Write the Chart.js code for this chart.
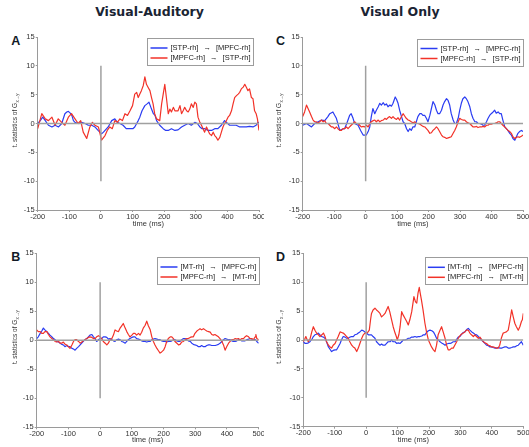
<!DOCTYPE html>
<html><head><meta charset="utf-8">
<script src="https://cdn.jsdelivr.net/npm/chart.js@4.4.1/dist/chart.umd.min.js"></script>
<style>
html,body{margin:0;padding:0;background:#fff;}
#wrap{position:relative;width:529px;height:447px;overflow:hidden;background:#fff;}
canvas{position:absolute;}
.ttl{position:absolute;font:bold 12.5px "DejaVu Sans",Verdana,sans-serif;color:#1a2433;white-space:nowrap;transform:translate(-50%,-50%);line-height:14px;}
.let{position:absolute;font:bold 12.5px "Liberation Sans",Arial,sans-serif;color:#111a26;transform:translate(-50%,-50%);line-height:14px;}
</style></head>
<body><div id="wrap">
<div class="ttl" style="left:149.5px;top:12px">Visual-Auditory</div>
<div class="ttl" style="left:400px;top:12px">Visual Only</div>
<div class="let" style="left:15.8px;top:40.5px">A</div>
<div class="let" style="left:15.8px;top:256.5px">B</div>
<div class="let" style="left:280.5px;top:40.5px">C</div>
<div class="let" style="left:280.5px;top:256.5px">D</div>
<canvas id="cA" width="264" height="232" style="left:0;top:0;width:264px;height:232px"></canvas>
<canvas id="cC" width="265" height="232" style="left:264px;top:0;width:265px;height:232px"></canvas>
<canvas id="cB" width="264" height="215" style="left:0;top:232px;width:264px;height:215px"></canvas>
<canvas id="cD" width="265" height="215" style="left:264px;top:232px;width:265px;height:215px"></canvas>
</div>
<script>
// ---------- tick labels / ranges ----------
const xTickVals = [-200,-100,0,100,200,300,400,500];
const yTickVals = [-15,-10,-5,0,5,10,15];
const zeroLineX = [-200,500];
const onsetLineY = [-10,10];

// ---------- legend labels ----------
const labelsA = [["[STP-rh]","[MPFC-rh]"],["[MPFC-rh]","[STP-rh]"]];
const labelsB = [["[MT-rh]","[MPFC-rh]"],["[MPFC-rh]","[MT-rh]"]];

// ---------- Panel A (Visual-Auditory, STP) ----------
const aBlueT = [-200,-192,-184,-176,-166,-155,-145,-134,-124,-114,-108,-103,-97,-92,-87,-82,-72,-61,-50,-40,-29,-19,-9,2,8,13,23,34,44,52,60,70,80,91,101,107,113,118,123,130,139,146,152,156,160,166,171,176,186,197,205,213,223,234,244,255,265,276,286,297,305,313,320,328,339,350,360,370,381,391,397,407,418,428,439,450,460,470,481,491,497,500];
const aBlueV = [0,0.5,1.1,0.5,-0.3,-0.6,-0.3,-0.6,0,1.7,2.0,2.1,1.8,1.4,0.5,0.2,0,0.2,0,-0.3,-0.3,-0.6,-1.2,-1.8,-1.5,-1.2,-0.6,0.5,0.8,0.2,0,-0.3,-0.9,-0.9,-0.9,-0.6,0,0.5,1.1,2.2,3.1,3.4,3.7,3.1,2.5,1.7,1.4,0.5,-0.3,-0.9,-1.2,-1.2,-0.9,-1.2,-1.1,-0.6,-0.3,0,-0.3,0.2,0,-0.6,-0.9,-0.9,-1.2,-1.2,-0.9,-0.9,-0.3,0.5,0.2,-0.3,-0.3,-0.3,-0.6,-0.6,-0.6,-0.5,-0.6,-0.3,0.2,0];
const aRedT = [-200,-187,-176,-166,-155,-145,-135,-124,-114,-103,-93,-82,-72,-64,-56,-45,-35,-27,-19,-8,2,13,20,28,36,44,52,60,68,76,84,92,100,107,113,118,123,128,134,139,144,149,155,160,165,170,176,186,192,197,202,207,213,218,223,229,234,244,250,255,260,265,271,276,281,286,292,297,302,307,313,318,323,328,334,339,344,350,355,360,365,370,376,381,386,391,397,402,407,413,418,423,428,434,439,444,450,455,460,465,470,476,481,486,491,495,500];
const aRedV = [-0.9,1.7,0.8,0.5,1.1,-0.3,0.8,0.2,-0.3,1.1,1.7,0.8,0,0.5,-1.5,-2.6,-0.6,0.2,-0.3,-0.6,-2.9,-2.1,-1.2,-0.6,-0.9,0.5,0.2,0.8,0.5,1.7,1.4,2.2,3.1,5.1,5.4,4.5,5.1,5.7,6.6,8.1,6.8,6.3,5.7,4.5,3.4,1.7,0.8,0.5,3.4,5.1,6.8,4.5,1.7,2.5,2.0,2.8,2.2,2.2,3.1,1.7,2.2,2.8,2.2,2.0,2.5,3.4,2.8,3.7,3.4,1.1,0.2,-0.3,-0.9,-1.5,-0.6,-1.2,-1.8,-2.1,-1.5,-2.1,-2.4,-2.9,-2.4,-1.5,-0.6,0,0.5,1.1,1.4,2.2,3.4,4.5,4.8,5.1,5.4,6.0,6.3,6.8,6.3,5.7,6.0,4.5,4.3,2.2,1.7,0.8,-1.2];

// ---------- Panel C (Visual Only, STP) ----------
const cBlueT = [-200,-188,-180,-172,-162,-151,-140,-130,-120,-114,-104,-98,-93,-82,-75,-67,-60,-51,-46,-40,-35,-24,-16,-8,2,8,13,18,23,29,34,40,45,50,56,61,66,71,77,82,87,94,98,103,108,114,119,124,130,135,140,145,150,156,161,166,172,177,182,188,193,198,204,209,214,220,225,230,235,241,246,251,257,262,267,272,278,283,288,294,299,304,309,315,320,325,331,336,341,347,352,357,362,368,373,378,384,389,394,399,405,410,415,421,426,431,436,442,447,452,458,463,468,474,479,484,489,495,500];
const cBlueV = [-0.3,0,-0.3,-0.6,0,0.3,0.6,0.5,1.2,1.7,2.0,1.4,0.9,-1.2,-1.0,-0.9,0,1.4,1.7,0.9,0,-0.3,-1.2,-2.0,-2.0,-1.4,-0.6,1.2,2.6,1.7,2.3,2.9,3.5,3.2,3.6,3.2,3.4,2.9,3.2,3.0,3.5,4.6,4.2,3.5,2.3,1.2,0.3,0,-0.9,-1.4,-0.9,-1.2,-0.6,-0.6,0.3,1.2,1.7,1.7,1.4,1.4,0.9,0.3,1.4,2.6,3.8,3.2,2.3,1.7,1.7,2.3,3.2,3.8,4.3,4.0,3.2,1.7,0.6,0,0,0.9,2.3,3.5,4.3,4.6,4.3,3.8,2.9,1.7,0.9,0.3,0.3,0,0,-0.1,-0.3,-0.3,0.3,0.9,1.4,1.7,2.0,2.3,1.8,2.0,1.7,1.7,0.6,-0.6,-0.9,-1.2,-1.7,-2.0,-2.6,-2.9,-2.3,-1.7,-1.4,-1.2,-1.4];
const cRedT = [-200,-194,-188,-183,-178,-172,-167,-162,-157,-151,-146,-141,-135,-130,-125,-119,-114,-109,-104,-98,-93,-88,-82,-77,-72,-67,-61,-56,-51,-46,-40,-35,-30,-24,-19,-14,-8,-3,2,8,13,18,24,29,34,40,45,50,56,61,66,71,76,82,87,92,98,103,108,114,119,124,129,135,140,145,151,156,161,167,172,177,182,188,193,198,204,209,214,220,225,230,235,241,246,251,257,262,267,272,278,283,288,294,299,304,309,315,320,325,331,336,341,347,352,357,362,368,373,378,384,389,394,399,405,410,415,421,426,431,436,442,447,452,458,463,468,474,479,484,489,495,500];
const cRedV = [1.2,2.0,3.2,2.6,2.0,1.2,0.6,0.3,0.3,0.1,0.3,0.6,0.3,0.5,0,0,-0.3,-0.6,-0.6,-0.9,-0.6,-0.9,-1.2,-1.2,-0.9,-0.9,-0.6,-0.9,-0.6,-0.3,0,0.3,0,0,-0.3,-0.6,-0.5,-0.6,-0.3,-0.6,0,0.3,0.5,0.6,0.3,0.6,0.3,0.5,0.6,0.9,0.7,1.0,1.2,0.9,1.2,0.9,0.7,1.0,0.6,1.2,1.7,1.3,0.9,0.6,0.5,0.3,0.1,0.3,0,0,-0.1,-0.3,-0.5,-0.6,-0.9,-1.2,-1.7,-1.6,-1.2,-0.9,-0.6,-0.9,-1.4,-2.0,-2.3,-2.4,-2.6,-2.5,-2.4,-2.3,-1.7,-1.2,-0.6,0.3,0.9,0.7,0.6,0.6,0.3,0.1,0,-0.3,-0.6,-0.6,-0.5,-0.7,-0.6,-0.6,-0.5,-0.6,-0.3,-0.3,-0.1,-0.1,0,0,0.1,0.3,0.3,0,-0.3,-0.6,-0.9,-1.2,-1.4,-1.7,-2.3,-2.6,-2.4,-2.3,-2.4,-2.2,-2.0];

// ---------- Panel B (Visual-Auditory, MT) ----------
const bBlueT = [-200,-195,-189,-184,-179,-174,-168,-163,-158,-152,-147,-142,-137,-131,-126,-121,-116,-111,-105,-100,-95,-89,-84,-79,-74,-68,-63,-58,-53,-48,-42,-37,-32,-26,-21,-16,-11,-5,0,5,10,16,21,26,31,37,42,47,52,58,63,68,73,79,84,89,94,100,105,110,115,121,126,131,136,142,147,152,158,163,168,173,179,184,189,194,200,205,210,215,221,226,231,236,242,247,252,257,263,268,273,278,284,289,294,299,305,310,315,320,326,331,336,342,347,352,357,363,368,373,378,384,389,394,399,405,410,415,420,426,431,436,441,447,452,457,462,468,473,478,484,489,494,500];
const bBlueV = [0.3,0.6,1.2,1.6,2.1,1.8,1.5,1.2,0.9,0.6,0.3,0.1,-0.2,-0.3,-0.5,-0.7,-0.8,-1.1,-0.9,-1.1,-1.1,-1.4,-1.5,-1.7,-1.4,-1.1,-0.8,-0.5,-0.2,0.1,0.3,0.6,0.9,1.0,0.6,0.3,-0.2,0.1,0.3,0.3,0.6,0.6,0.5,0.2,0.3,0.1,-0.1,-0.2,0.1,0.2,0.1,-0.2,-0.3,-0.5,-0.2,0.1,0.3,0.5,0.6,0.6,0.3,0.2,0.1,-0.1,-0.2,-0.2,-0.3,-0.2,-0.2,0.1,0.2,0.3,0.2,0.1,0.1,-0.1,-0.2,-0.2,-0.3,-0.2,-0.2,-0.1,0.1,0.1,-0.1,-0.2,-0.2,0.1,0.3,0.3,0.1,-0.1,-0.2,-0.5,-0.7,-0.8,-0.9,-1.1,-1.1,-0.9,-1.1,-1.1,-0.9,-0.8,-0.8,-0.9,-0.9,-0.9,-0.8,-0.7,-0.5,-0.2,0.1,0.3,0.2,0.1,0.1,-0.1,-0.2,-0.2,-0.1,0.1,0.1,-0.1,-0.1,-0.1,0.1,0.2,0.3,0.2,0.1,0.1,-0.2,-0.5];
const bRedT = [-200,-195,-189,-184,-179,-174,-168,-163,-158,-152,-147,-142,-137,-131,-126,-121,-116,-110,-105,-100,-95,-89,-84,-79,-74,-68,-63,-58,-53,-48,-42,-37,-32,-26,-21,-16,-11,-5,0,5,10,16,21,26,31,37,42,47,52,58,63,68,73,79,84,89,94,100,105,110,115,121,126,131,136,142,147,152,158,163,168,173,179,184,189,194,200,205,210,215,221,226,231,236,242,247,252,257,263,268,273,278,284,289,294,299,305,310,315,320,326,331,336,342,347,352,357,362,368,373,378,384,389,394,399,405,410,415,420,426,431,436,441,447,452,457,462,468,473,478,483,489,491,494,500];
const bRedV = [1.8,1.5,1.5,1.2,1.2,1.5,1.5,1.0,0.6,0.3,0.1,-0.2,-0.3,-0.2,-0.5,-0.5,-0.3,-0.7,-0.8,-1.1,-1.4,-0.8,-0.2,0.1,0.1,-0.2,-0.5,-0.3,-0.1,0.1,0.3,0.5,0.6,0.5,0.3,0.3,0.6,0.8,0.6,0.3,-0.2,-0.5,-0.8,-0.5,0.1,0.3,0.9,1.8,1.6,1.5,2.1,2.5,2.9,2.1,1.5,1.0,0.6,0.9,1.2,1.2,0.9,1.2,0.9,1.4,2.1,2.6,3.3,2.5,1.8,0.6,-0.2,-0.8,-1.4,-1.8,-2.2,-2.0,-1.7,-1.1,-0.2,0.3,0.6,0.6,0.3,-0.2,-0.5,-0.8,-0.7,-0.3,-0.2,0.1,0.3,0.3,0.5,0.6,0.6,1.2,1.6,1.8,2.0,1.8,2.0,1.8,1.6,1.5,1.4,1.0,0.9,1.0,0.8,0.6,0.3,-0.2,-0.8,-1.7,-1.1,-0.5,-0.2,0.1,0.1,0.3,0.2,0.3,0.1,0.3,0.3,0.6,0.8,0.6,0.3,0.3,0.1,0.6,1.0,0.3,0.1];

// ---------- Panel D (Visual Only, MT) ----------
const dBlueT = [-200,-194,-189,-184,-179,-173,-168,-163,-158,-152,-147,-142,-136,-131,-126,-120,-115,-110,-105,-99,-94,-89,-83,-78,-73,-67,-62,-57,-52,-46,-41,-36,-30,-25,-20,-14,-9,-4,1,7,12,17,22,28,33,38,44,49,54,60,65,70,76,81,86,92,97,102,108,113,118,123,129,134,139,145,150,155,161,166,171,177,182,187,192,198,203,209,214,219,224,230,235,240,246,251,256,262,267,272,277,283,288,293,298,304,309,314,320,325,330,336,341,346,351,357,362,367,373,378,383,389,394,399,404,410,415,420,426,431,436,441,447,452,457,463,468,473,479,484,489,494,500];
const dBlueV = [-0.3,-0.6,-0.6,-0.5,-0.3,0.1,0.6,0.9,1.0,1.2,0.9,0.6,0.5,0.3,-0.3,-1.2,-1.6,-2.0,-1.8,-1.7,-1.7,-1.2,-0.6,0.1,0.6,0.5,0.3,0.3,0.5,0.6,0.6,0.9,1.0,1.2,1.4,1.7,1.6,1.4,1.2,0.9,0.9,0.9,0.6,0.3,-0.3,-0.6,-0.9,-0.7,-0.9,-0.9,-0.6,-0.3,-0.3,0,-0.3,-0.3,-0.6,-0.5,-0.6,-0.3,0,0,0.1,0.3,0.3,0.5,0.5,0.6,0.5,0.6,0.6,0.7,0.9,0.9,1.3,1.6,1.7,1.6,1.4,0.9,0.3,0,-0.3,-0.5,-0.7,-0.9,-0.7,-0.6,-0.6,-0.5,-0.3,-0.3,0.1,0.5,0.6,1.0,1.3,1.4,1.8,2.0,1.7,1.4,1.2,1.0,0.9,0.6,0.3,0,-0.3,-0.6,-0.9,-1.0,-1.2,-1.2,-1.3,-1.4,-1.4,-1.3,-1.4,-1.4,-1.3,-1.2,-1.2,-1.4,-1.4,-1.3,-1.2,-1.2,-1.0,-0.9,-0.6,-0.3,-0.9];
const dRedT = [-200,-196,-192,-188,-184,-178,-173,-168,-163,-158,-152,-147,-141,-136,-131,-126,-120,-115,-110,-105,-99,-94,-89,-83,-78,-73,-67,-62,-57,-52,-46,-41,-36,-30,-25,-20,-14,-9,-4,1,6,10,14,17,22,28,33,39,44,49,55,60,65,70,75,81,86,92,96,99,104,108,113,118,123,129,134,139,145,152,157,161,165,169,172,176,181,187,192,198,203,208,214,219,224,229,235,240,245,251,256,261,266,272,277,282,288,293,298,303,309,314,319,325,330,335,341,346,351,357,362,367,373,378,383,389,394,399,404,410,415,420,425,430,436,441,446,452,457,463,468,473,478,484,489,494,497,500];
const dRedV = [-0.3,0.1,0.6,0.1,-0.3,0.3,1.4,2.3,1.7,1.2,0.9,0.6,0.9,1.2,0.6,-0.3,-0.9,-1.2,-1.4,-0.9,-0.6,0,0.6,1.4,1.3,1.2,0.9,0.6,0.3,-0.3,-0.9,-1.2,-1.4,-2.0,-1.4,-0.6,0.3,0.9,1.2,1.2,1.4,1.7,3.5,4.6,5.2,5.5,5.2,4.9,4.6,4.0,4.3,4.6,5.2,5.8,4.9,3.5,2.3,1.2,0.6,0,0.9,2.3,4.9,4.3,3.8,3.2,2.6,3.5,4.9,7.5,6.6,6.4,8.1,9.1,8.1,6.9,5.2,2.9,1.4,0,-0.6,-1.2,-1.7,-2.0,-0.9,0.9,1.7,2.3,1.4,0.3,-0.9,-1.7,-1.7,-1.4,-1.4,-0.9,-0.3,0.3,0.7,1.0,1.2,1.4,1.7,1.7,1.2,0.9,0.6,0.9,0.6,0.3,0.5,0.1,-0.3,-0.5,-0.6,-0.9,-1.0,-1.2,-1.2,-1.3,-1.4,-1.4,-0.9,0.3,1.2,1.3,1.4,1.7,3.2,5.2,4.0,2.9,2.3,1.7,2.3,3.2,3.5,4.6];

// ---------- styling ----------
const FONT = '"Liberation Sans", Arial, sans-serif';
const BLUE = '#2a3cf2';
const RED = '#f23228';
const AX = '#9a9a9a';
const REF = '#a0a0a0';

function pts(T, V){ const n=Math.min(T.length,V.length); const o=[]; for(let i=0;i<n;i++) o.push({x:T[i], y:V[i]}); return o; }

function decorPlugin(cfg){
  return {
    id:'decor',
    afterDraw(chart){
      const ctx = chart.ctx, ca = chart.chartArea;
      ctx.save();
      // x title
      ctx.fillStyle = '#333';
      ctx.font = '7.5px ' + FONT;
      ctx.textAlign = 'center'; ctx.textBaseline = 'middle';
      ctx.fillText('time (ms)', (ca.left+ca.right)/2, ca.bottom + cfg.xTitleOff);
      // y title (rotated)
      ctx.save();
      ctx.translate(cfg.yTitleX, (ca.top+ca.bottom)/2 - 3);
      ctx.rotate(-Math.PI/2);
      const main = 't. statistics of G';
      const sub = 'x\u2192y';
      ctx.font = '6.5px ' + FONT;
      const wm = ctx.measureText(main).width;
      ctx.font = '4.6px ' + FONT;
      const ws = ctx.measureText(sub).width;
      const start = -(wm+ws)/2;
      ctx.textAlign = 'left';
      ctx.font = '6.5px ' + FONT;
      ctx.fillText(main, start, 0);
      ctx.font = '4.6px ' + FONT;
      ctx.fillText(sub, start + wm + 0.3, 2);
      ctx.restore();
      // legend box
      ctx.font = '7.5px ' + FONT;
      const gap = 5;
      const arrow = '\u2192';
      const wa = ctx.measureText(arrow).width;
      const rows = cfg.labels;
      let tw = 0;
      rows.forEach(r => { const w = ctx.measureText(r[0]).width + gap + wa + gap + ctx.measureText(r[1]).width; if (w>tw) tw=w; });
      const padL = 3, lineLen = 17, lineGap = 3, padR = 3;
      const bw = padL + lineLen + lineGap + tw + padR;
      const bh = 27;
      const bx = cfg.legRight - bw, by = cfg.legTop;
      ctx.fillStyle = '#fff';
      ctx.fillRect(bx, by, bw, bh);
      ctx.strokeStyle = '#9c9c9c'; ctx.lineWidth = 1;
      ctx.strokeRect(Math.round(bx)+0.5, Math.round(by)+0.5, Math.round(bw), Math.round(bh));
      const colors = [BLUE, RED];
      rows.forEach((r,i) => {
        const cy = by + 10 + i*10;
        ctx.strokeStyle = colors[i]; ctx.lineWidth = 1.5;
        ctx.beginPath(); ctx.moveTo(bx+padL, cy); ctx.lineTo(bx+padL+lineLen, cy); ctx.stroke();
        ctx.fillStyle = '#222'; ctx.textAlign='left'; ctx.textBaseline='middle';
        let x = bx + padL + lineLen + lineGap;
        ctx.fillText(r[0], x, cy); x += ctx.measureText(r[0]).width + gap;
        ctx.fillText(arrow, x, cy); x += wa + gap;
        ctx.fillText(r[1], x, cy);
      });
      ctx.restore();
    }
  };
}

function makeChart(id, c){
  const datasets = [
    {label:'onset', data: pts([0,0], onsetLineY), borderColor: REF, borderWidth: 1.5, pointRadius:0, order:0},
    {label:'zero', data: pts(zeroLineX, [0,0]), borderColor: REF, borderWidth: 1.5, pointRadius:0, order:1},
    {label: c.labels[1].join(' \u2192 '), data: pts(c.redT, c.redV), borderColor: RED, borderWidth: 1.2, pointRadius:0, order:2},
    {label: c.labels[0].join(' \u2192 '), data: pts(c.blueT, c.blueV), borderColor: BLUE, borderWidth: 1.2, pointRadius:0, order:3}
  ];
  const tickFont = {size:7.5, family: FONT};
  return new Chart(document.getElementById(id), {
    type:'line',
    data:{datasets},
    options:{
      responsive:false, animation:false, events:[],
      layout:{padding:{left:0, top:c.padTop, right:c.padRight, bottom:0}},
      plugins:{legend:{display:false}, tooltip:{enabled:false}, title:{display:false}},
      elements:{line:{tension:0, borderJoinStyle:'round'}},
      scales:{
        x:{type:'linear', min:-200, max:500,
          afterBuildTicks: s => { s.ticks = xTickVals.map(v => ({value:v})); },
          afterFit: s => { s.height = c.xH; s.paddingLeft = 0; s.paddingRight = 0; },
          grid:{drawOnChartArea:false, drawTicks:true, tickLength:2, color:AX},
          border:{display:true, color:AX, width:1},
          ticks:{font:tickFont, color:'#333', padding:0, maxRotation:0, autoSkip:false}},
        y:{type:'linear', min:-15, max:15,
          afterBuildTicks: s => { s.ticks = yTickVals.map(v => ({value:v})); },
          afterFit: s => { s.width = c.yW; s.paddingTop = 0; s.paddingBottom = 0; },
          grid:{drawOnChartArea:false, drawTicks:true, tickLength:2, color:AX},
          border:{display:true, color:AX, width:1},
          ticks:{font:tickFont, color:'#333', padding:1, autoSkip:false}}
      }
    },
    plugins:[decorPlugin(c)]
  });
}

makeChart('cA', {blueT:aBlueT, blueV:aBlueV, redT:aRedT, redV:aRedV, labels:labelsA,
  yW:37.7, padTop:37, padRight:5, xH:22, xTitleOff:14, yTitleX:15.5, legRight:253.5, legTop:38});
makeChart('cC', {blueT:cBlueT, blueV:cBlueV, redT:cRedT, redV:cRedV, labels:labelsA,
  yW:38.7, padTop:37, padRight:6, xH:22, xTitleOff:14, yTitleX:15.5, legRight:259.5, legTop:38.5});
makeChart('cB', {blueT:bBlueT, blueV:bBlueV, redT:bRedT, redV:bRedV, labels:labelsB,
  yW:36.7, padTop:21.3, padRight:5.3, xH:19.7, xTitleOff:13, yTitleX:15.5, legRight:259.3, legTop:25});
makeChart('cD', {blueT:dBlueT, blueV:dBlueV, redT:dRedT, redV:dRedV, labels:labelsB,
  yW:39.3, padTop:21.3, padRight:5.7, xH:20.3, xTitleOff:13, yTitleX:15.5, legRight:262.7, legTop:25.3});
</script>
</body></html>
